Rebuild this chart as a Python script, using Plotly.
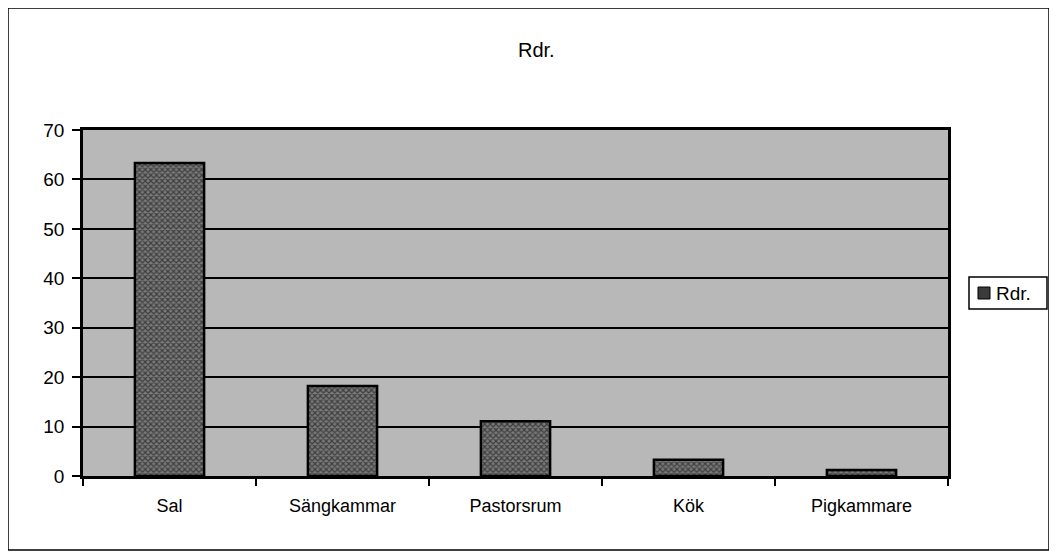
import plotly.graph_objects as go

categories = ["Sal", "Sängkammar", "Pastorsrum", "Kök", "Pigkammare"]
values = [63.3, 18.2, 11.1, 3.3, 1.2]
series_name = "Rdr."
title_text = "Rdr."
y_ticks = [0, 10, 20, 30, 40, 50, 60, 70]

# page has an 8px body margin; figure coords = page coords minus 8
OFF = 8
W, H = 1057 - OFF, 558 - OFF
L, R, T, B = 83 - OFF, 948 - OFF, 130 - OFF, 476 - OFF
PW, PH = R - L, B - T


def px(xp):  # page x -> paper x
    return (xp - 83) / PW


def py(yp):  # page y -> paper y
    return (476 - yp) / PH


fig = go.Figure()
fig.add_trace(go.Bar(
    x=categories, y=values, name=series_name,
    width=0.4, showlegend=False,
    marker=dict(
        color="#4a4a4a",
        line=dict(color="black", width=2.5),
        pattern=dict(shape="x", fgcolor="#000000", bgcolor="#7a7a7a", size=4, solidity=0.5),
    ),
))

fig.update_layout(
    width=W, height=H,
    margin=dict(l=L, r=W - R, t=T, b=H - B, autoexpand=False),
    paper_bgcolor="white",
    plot_bgcolor="#b8b8b8",
    font=dict(family="Arial, Liberation Sans, sans-serif", size=17, color="black"),
    showlegend=False,
    bargap=0.6,
)
fig.add_annotation(text=title_text, xref="paper", yref="paper",
                   x=px(536), y=py(50), xanchor="center", yanchor="middle",
                   showarrow=False, font=dict(size=20))
fig.update_xaxes(
    showline=True, linecolor="black", linewidth=2.5, mirror=True,
    ticks="outside", tickson="boundaries", ticklen=7, tickcolor="black", tickwidth=1.5,
    showgrid=False, tickfont=dict(size=18), ticklabelstandoff=12,
)
fig.update_yaxes(
    range=[0, 70], tickvals=y_ticks,
    showline=True, linecolor="black", linewidth=2.5, mirror=True,
    ticks="outside", ticklen=8, tickcolor="black", tickwidth=1.5,
    showgrid=True, gridcolor="black", gridwidth=1.5,
    tickfont=dict(size=19), zeroline=False, ticklabelstandoff=4,
)
# outer chart border
fig.add_shape(type="rect", xref="paper", yref="paper",
              x0=px(8), x1=px(1049), y0=py(550), y1=py(8),
              line=dict(color="black", width=1.5), layer="below")
# legend box
fig.add_shape(type="rect", xref="paper", yref="paper",
              x0=px(969), x1=px(1047), y0=py(309), y1=py(277),
              line=dict(color="black", width=1.5), fillcolor="white")
fig.add_shape(type="rect", xref="paper", yref="paper",
              x0=px(978), x1=px(990), y0=py(299), y1=py(287),
              line=dict(color="black", width=1), fillcolor="#3a3a3a")
fig.add_annotation(text=series_name, xref="paper", yref="paper",
                   x=px(994), y=py(293), xanchor="left", yanchor="middle",
                   showarrow=False, font=dict(size=19))

fig.write_html("out.html")
